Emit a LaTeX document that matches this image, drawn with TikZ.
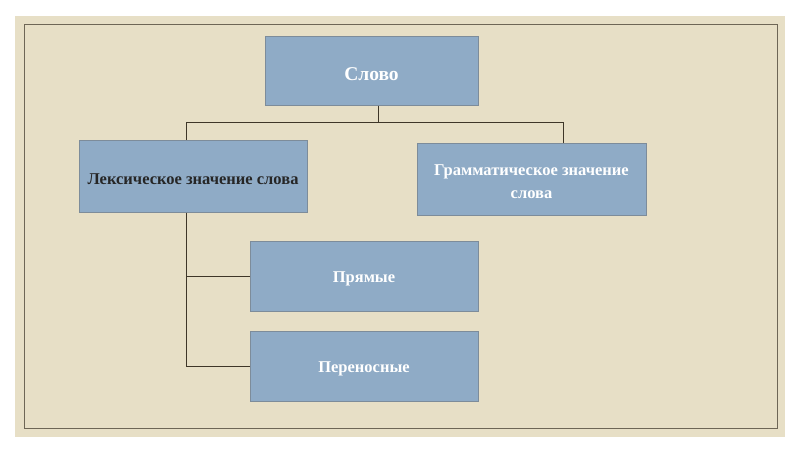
\documentclass[tikz,border=0pt]{standalone}
\usepackage{fontspec}
\setmainfont{Liberation Serif}
\definecolor{panel}{HTML}{E7DFC6}
\definecolor{boxfill}{HTML}{8FABC6}
\definecolor{boxline}{HTML}{7D8C9A}
\definecolor{frameline}{HTML}{6E6656}
\definecolor{conn}{HTML}{3E3628}
\tikzset{
  blk/.style={draw=boxline, line width=1pt, fill=boxfill, inner sep=0pt},
  lbl/.style={inner sep=0pt, yshift=-3pt, font=\bfseries\fontsize{16.5}{23}\selectfont, text=white, align=center},
  wire/.style={draw=conn, line width=0.9pt}
}
\begin{document}
\begin{tikzpicture}[x=1pt,y=-1pt]
\useasboundingbox (0,0) rectangle (800,450);
\fill[white] (0,0) rectangle (800,450);
\fill[panel] (15,16) rectangle (785,437);
\draw[frameline, line width=1pt] (24,24) rectangle (777,428);
\node[blk, minimum width=213pt, minimum height=69pt,
  label={[lbl, yshift=-1pt, font=\bfseries\fontsize{19.5}{23}\selectfont]center:Слово}] (slovo) at (371.5,70.5) {};
\node[blk, minimum width=228pt, minimum height=72pt,
  label={[lbl, text=black!85]center:Лексическое значение слова}] (lex) at (193,176) {};
\node[blk, minimum width=229pt, minimum height=72pt,
  label={[lbl]center:Грамматическое значение\\слова}] (gram) at (531.5,179) {};
\node[blk, minimum width=228pt, minimum height=70pt,
  label={[lbl]center:Прямые}] (pr) at (364,276) {};
\node[blk, minimum width=228pt, minimum height=70pt,
  label={[lbl]center:Переносные}] (per) at (364,366) {};
\coordinate (j) at (378,122);
\draw[wire] (slovo.south -| j) -- (j);
\draw[wire] (lex.north -| 186,0) -- (186,122) -- (563,122) -- (gram.north -| 563,0);
\draw[wire] (lex.south -| 186,0) -- (per.west -| 186,0) -- (per.west);
\draw[wire] (pr.west -| 186,0) -- (pr.west);
\end{tikzpicture}
\end{document}
